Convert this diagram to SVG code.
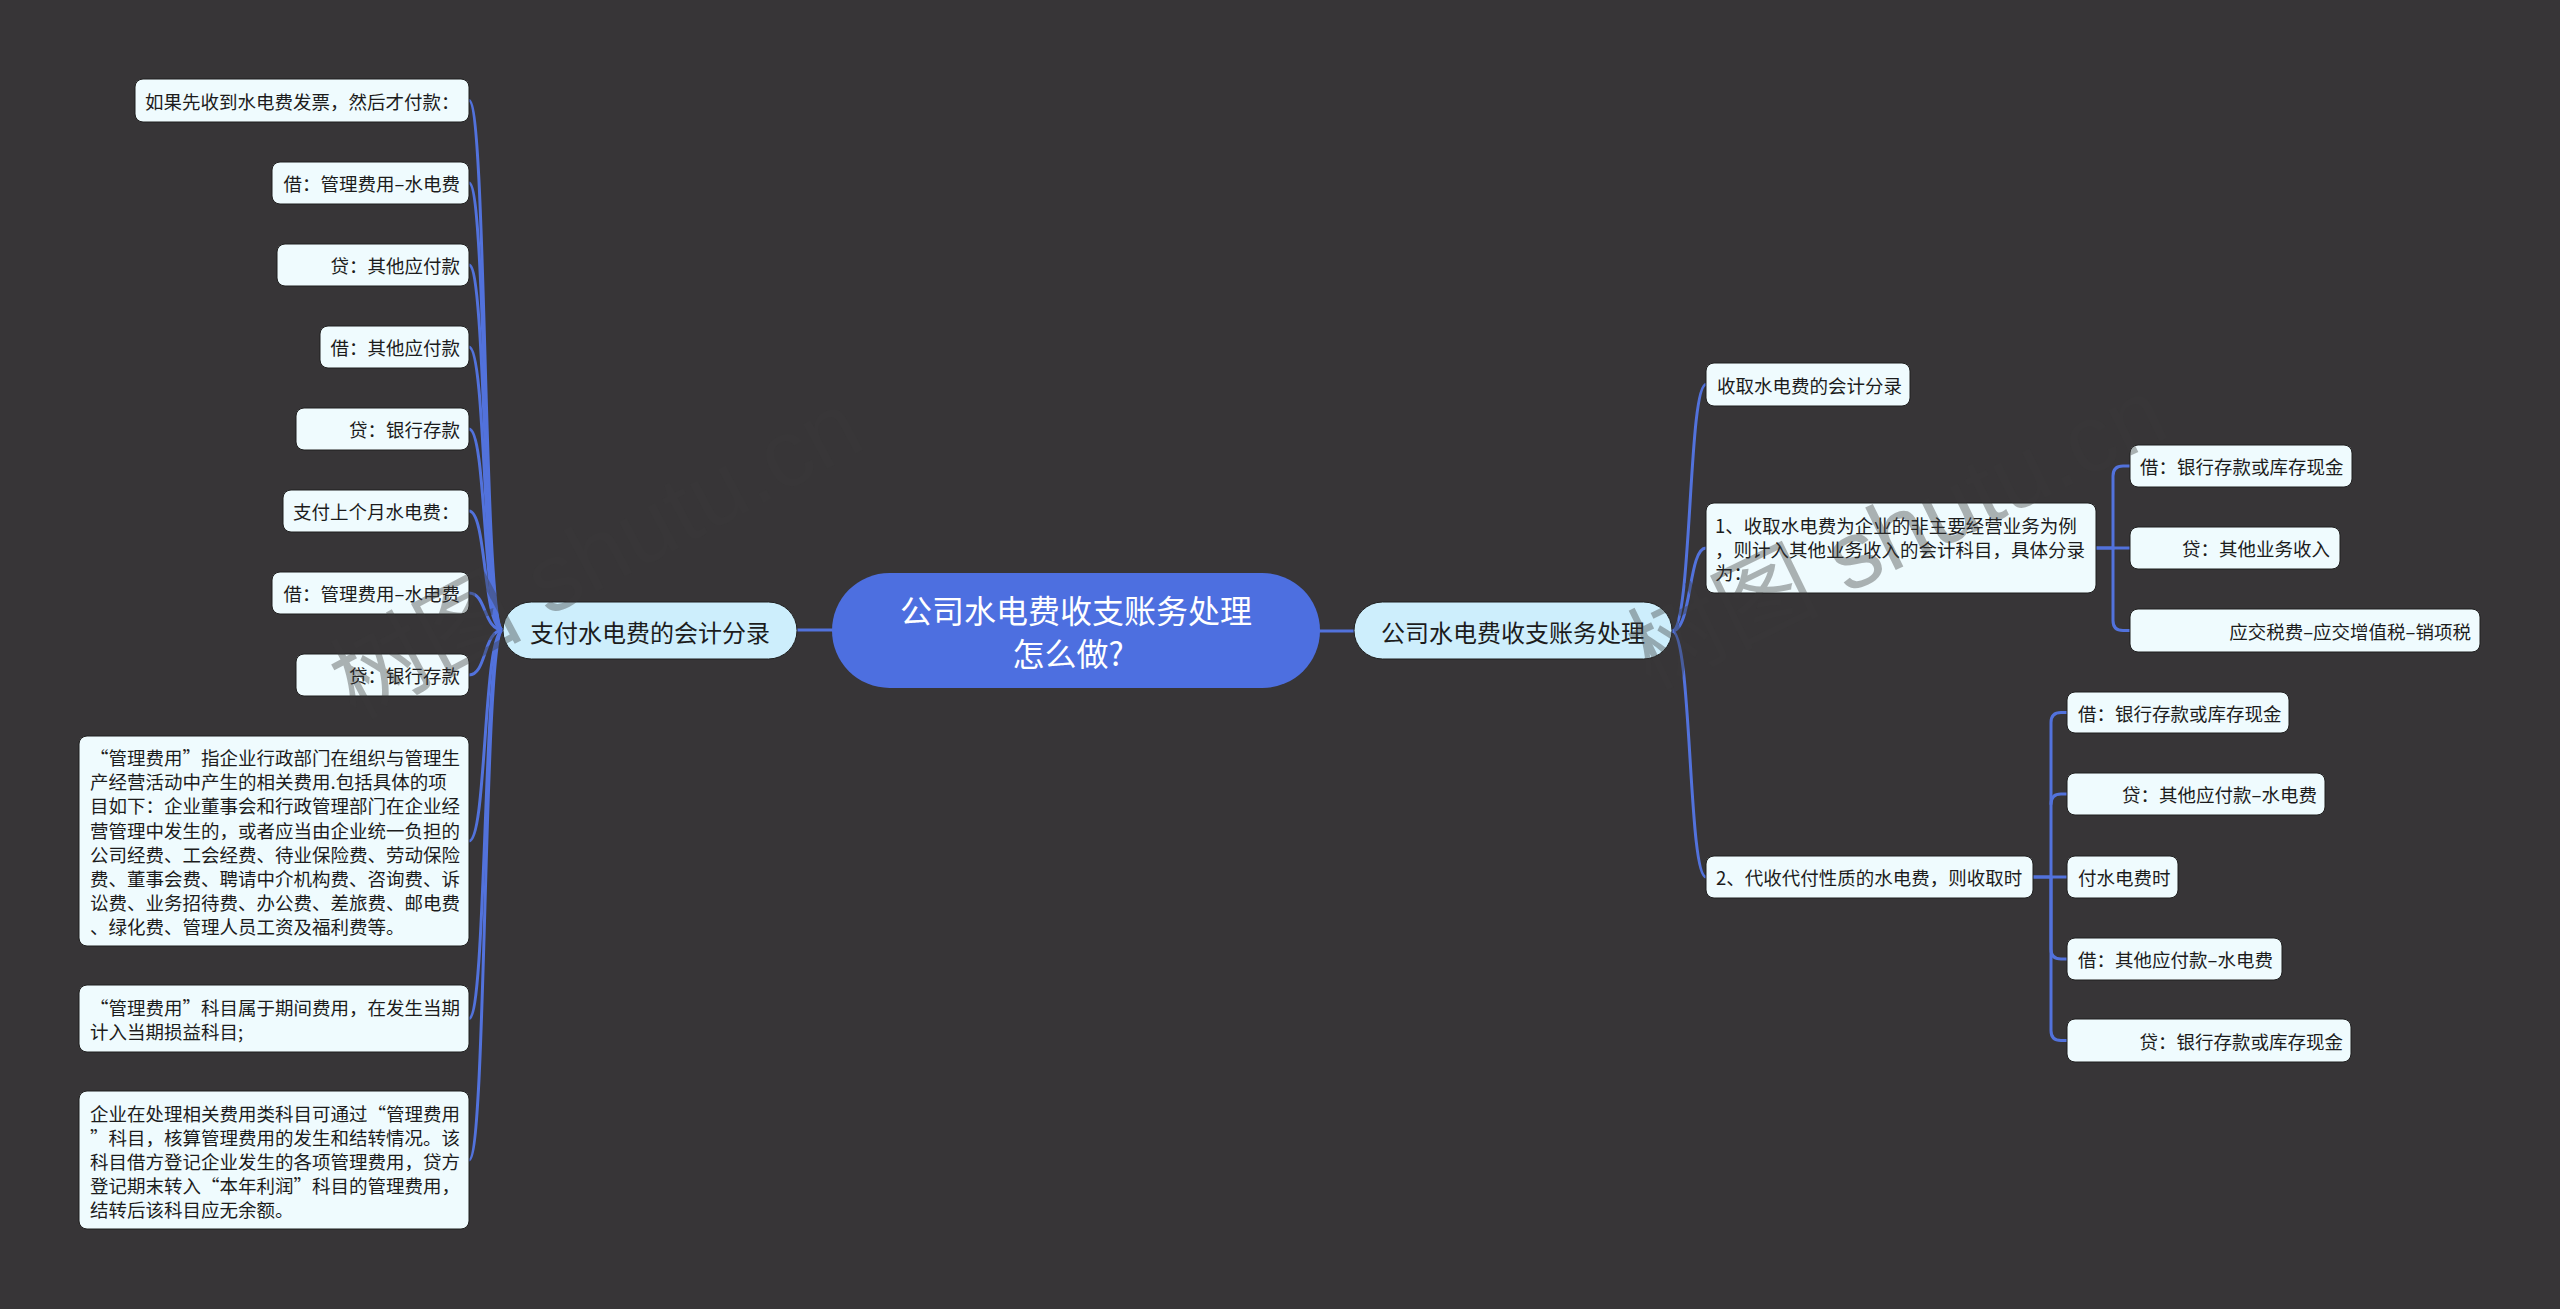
<svg xmlns="http://www.w3.org/2000/svg" width="2560" height="1309" viewBox="0 0 2560 1309">
<style>
text{font-family:"Noto Sans CJK SC","Noto Sans",sans-serif;fill:#1c1c1c;font-size:18.5px}
.leaf{fill:#effbfe;stroke:#1f1f1f;stroke-width:1}
.l1{fill:#cdeefc;stroke:#1f1f1f;stroke-width:1}
.root{fill:#4d6fe0}
.c{fill:none;stroke:#5272dc;stroke-width:3;stroke-linecap:round}
.e{text-anchor:end}
.l1t{font-size:24px}
.rt{font-size:32px;fill:#ffffff;text-anchor:middle}
.wm{font-size:96px;fill:#3a3a3a;opacity:0.38;font-family:"Liberation Sans","Noto Sans CJK SC",sans-serif}
</style>
<rect width="2560" height="1309" fill="#373537"/>
<g id="connectors">
<path class="c" d="M797 630 H832"/>
<path class="c" d="M1320 631 H1354"/>
<path class="c" d="M503 630 C483 630 487 100.5 469 100.5"/>
<path class="c" d="M503 630 C483 630 487 183 469 183"/>
<path class="c" d="M503 630 C483 630 487 265 469 265"/>
<path class="c" d="M503 630 C483 630 487 347 469 347"/>
<path class="c" d="M503 630 C483 630 487 429 469 429"/>
<path class="c" d="M503 630 C483 630 487 511 469 511"/>
<path class="c" d="M503 630 C483 630 487 593 469 593"/>
<path class="c" d="M503 630 C483 630 487 675 469 675"/>
<path class="c" d="M503 630 C483 630 487 841 469 841"/>
<path class="c" d="M503 630 C483 630 487 1018.5 469 1018.5"/>
<path class="c" d="M503 630 C483 630 487 1160 469 1160"/>
<path class="c" d="M1672 631 C1692 631 1688 384.5 1706 384.5"/>
<path class="c" d="M1672 631 C1692 631 1688 548 1706 548"/>
<path class="c" d="M1672 631 C1692 631 1688 877 1706 877"/>
<path class="c" d="M2096 548 H2113 V476 Q2113 466 2123 466 H2130"/>
<path class="c" d="M2096 548 H2130"/>
<path class="c" d="M2113 548 V620.5 Q2113 630.5 2123 630.5 H2130"/>
<path class="c" d="M2033 877 H2051 V722.5 Q2051 712.5 2061 712.5 H2067"/>
<path class="c" d="M2051 804 Q2051 794 2061 794 H2067"/>
<path class="c" d="M2033 877 H2067"/>
<path class="c" d="M2051 877 V949 Q2051 959 2061 959 H2067"/>
<path class="c" d="M2051 877 V1030.5 Q2051 1040.5 2061 1040.5 H2067"/>
</g>
<g id="root">
<rect class="root" x="832" y="573" width="488" height="115" rx="57.5"/>
<text class="rt" dominant-baseline="central"><tspan x="1076" y="609">公司水电费收支账务处理</tspan><tspan x="1068" y="652">怎么做?</tspan></text>
</g>
<g id="n-left">
<rect class="l1" x="503" y="602" width="294" height="57" rx="28.5"/>
<text class="l1t" x="650" y="631" text-anchor="middle" dominant-baseline="central">支付水电费的会计分录</text>
</g>
<g id="n-right">
<rect class="l1" x="1354" y="602" width="318" height="57" rx="28.5"/>
<text class="l1t" x="1513" y="631" text-anchor="middle" dominant-baseline="central">公司水电费收支账务处理</text>
</g>
<g id="l1">
<rect class="leaf" x="135" y="79" width="334" height="43" rx="8"/>
<text x="145" y="100.5" dominant-baseline="central">如果先收到水电费发票，然后才付款：</text>
</g>
<g id="l2">
<rect class="leaf" x="272" y="162" width="197" height="42" rx="8"/>
<text class="e" x="460" y="183" dominant-baseline="central">借：管理费用–水电费</text>
</g>
<g id="l3">
<rect class="leaf" x="277" y="244" width="192" height="42" rx="8"/>
<text class="e" x="460" y="265" dominant-baseline="central">贷：其他应付款</text>
</g>
<g id="l4">
<rect class="leaf" x="320" y="326" width="149" height="42" rx="8"/>
<text class="e" x="460" y="347" dominant-baseline="central">借：其他应付款</text>
</g>
<g id="l5">
<rect class="leaf" x="296" y="408" width="173" height="42" rx="8"/>
<text class="e" x="460" y="429" dominant-baseline="central">贷：银行存款</text>
</g>
<g id="l6">
<rect class="leaf" x="283" y="490" width="186" height="42" rx="8"/>
<text x="293" y="511" dominant-baseline="central">支付上个月水电费：</text>
</g>
<g id="l7">
<rect class="leaf" x="272" y="572" width="197" height="42" rx="8"/>
<text class="e" x="460" y="593" dominant-baseline="central">借：管理费用–水电费</text>
</g>
<g id="l8">
<rect class="leaf" x="296" y="654" width="173" height="42" rx="8"/>
<text class="e" x="460" y="675" dominant-baseline="central">贷：银行存款</text>
</g>
<g id="l9">
<rect class="leaf" x="79" y="736" width="390" height="210" rx="8"/>
<text dominant-baseline="central">
<tspan x="90" y="757">“管理费用”指企业行政部门在组织与管理生</tspan>
<tspan x="90" y="781.2">产经营活动中产生的相关费用.包括具体的项</tspan>
<tspan x="90" y="805.4">目如下：企业董事会和行政管理部门在企业经</tspan>
<tspan x="90" y="829.6">营管理中发生的，或者应当由企业统一负担的</tspan>
<tspan x="90" y="853.8">公司经费、工会经费、待业保险费、劳动保险</tspan>
<tspan x="90" y="878">费、董事会费、聘请中介机构费、咨询费、诉</tspan>
<tspan x="90" y="902.2">讼费、业务招待费、办公费、差旅费、邮电费</tspan>
<tspan x="90" y="926.4">、绿化费、管理人员工资及福利费等。</tspan>
</text>
</g>
<g id="l10">
<rect class="leaf" x="79" y="985" width="390" height="67" rx="8"/>
<text dominant-baseline="central">
<tspan x="90" y="1006.5">“管理费用”科目属于期间费用，在发生当期</tspan>
<tspan x="90" y="1030.5">计入当期损益科目;</tspan>
</text>
</g>
<g id="l11">
<rect class="leaf" x="79" y="1091" width="390" height="138" rx="8"/>
<text dominant-baseline="central">
<tspan x="90" y="1112.5">企业在处理相关费用类科目可通过“管理费用</tspan>
<tspan x="90" y="1136.6">”科目，核算管理费用的发生和结转情况。该</tspan>
<tspan x="90" y="1160.7">科目借方登记企业发生的各项管理费用，贷方</tspan>
<tspan x="90" y="1184.8">登记期末转入“本年利润”科目的管理费用，</tspan>
<tspan x="90" y="1208.9">结转后该科目应无余额。</tspan>
</text>
</g>
<g id="r1">
<rect class="leaf" x="1706" y="363" width="204" height="43" rx="8"/>
<text x="1717" y="384.5" dominant-baseline="central">收取水电费的会计分录</text>
</g>
<g id="r2">
<rect class="leaf" x="1706" y="503" width="390" height="90" rx="8"/>
<text dominant-baseline="central">
<tspan x="1715" y="525">1、收取水电费为企业的非主要经营业务为例</tspan>
<tspan x="1715" y="548.5">，则计入其他业务收入的会计科目，具体分录</tspan>
<tspan x="1715" y="572">为：</tspan>
</text>
</g>
<g id="r3">
<rect class="leaf" x="1706" y="856" width="327" height="42" rx="8"/>
<text x="1716" y="877" dominant-baseline="central">2、代收代付性质的水电费，则收取时</text>
</g>
<g id="r2a">
<rect class="leaf" x="2130" y="445" width="222" height="42" rx="8"/>
<text x="2140" y="466" dominant-baseline="central">借：银行存款或库存现金</text>
</g>
<g id="r2b">
<rect class="leaf" x="2130" y="527" width="210" height="42" rx="8"/>
<text class="e" x="2330" y="548" dominant-baseline="central">贷：其他业务收入</text>
</g>
<g id="r2c">
<rect class="leaf" x="2130" y="609" width="350" height="43" rx="8"/>
<text class="e" x="2471" y="630.5" dominant-baseline="central">应交税费–应交增值税–销项税</text>
</g>
<g id="r3a">
<rect class="leaf" x="2067" y="692" width="222" height="41" rx="8"/>
<text x="2078" y="712.5" dominant-baseline="central">借：银行存款或库存现金</text>
</g>
<g id="r3b">
<rect class="leaf" x="2067" y="773" width="258" height="42" rx="8"/>
<text class="e" x="2317" y="794" dominant-baseline="central">贷：其他应付款–水电费</text>
</g>
<g id="r3c">
<rect class="leaf" x="2067" y="856" width="111" height="42" rx="8"/>
<text x="2078" y="877" dominant-baseline="central">付水电费时</text>
</g>
<g id="r3d">
<rect class="leaf" x="2067" y="938" width="215" height="42" rx="8"/>
<text x="2078" y="959" dominant-baseline="central">借：其他应付款–水电费</text>
</g>
<g id="r3e">
<rect class="leaf" x="2067" y="1019" width="284" height="43" rx="8"/>
<text class="e" x="2343" y="1040.5" dominant-baseline="central">贷：银行存款或库存现金</text>
</g>
<g id="watermark">
<text class="wm" transform="translate(355 720) rotate(-28)">树图 shutu.cn</text>
<text class="wm" transform="translate(1650 690) rotate(-26)">树图 shutu.cn</text>
</g>
</svg>
